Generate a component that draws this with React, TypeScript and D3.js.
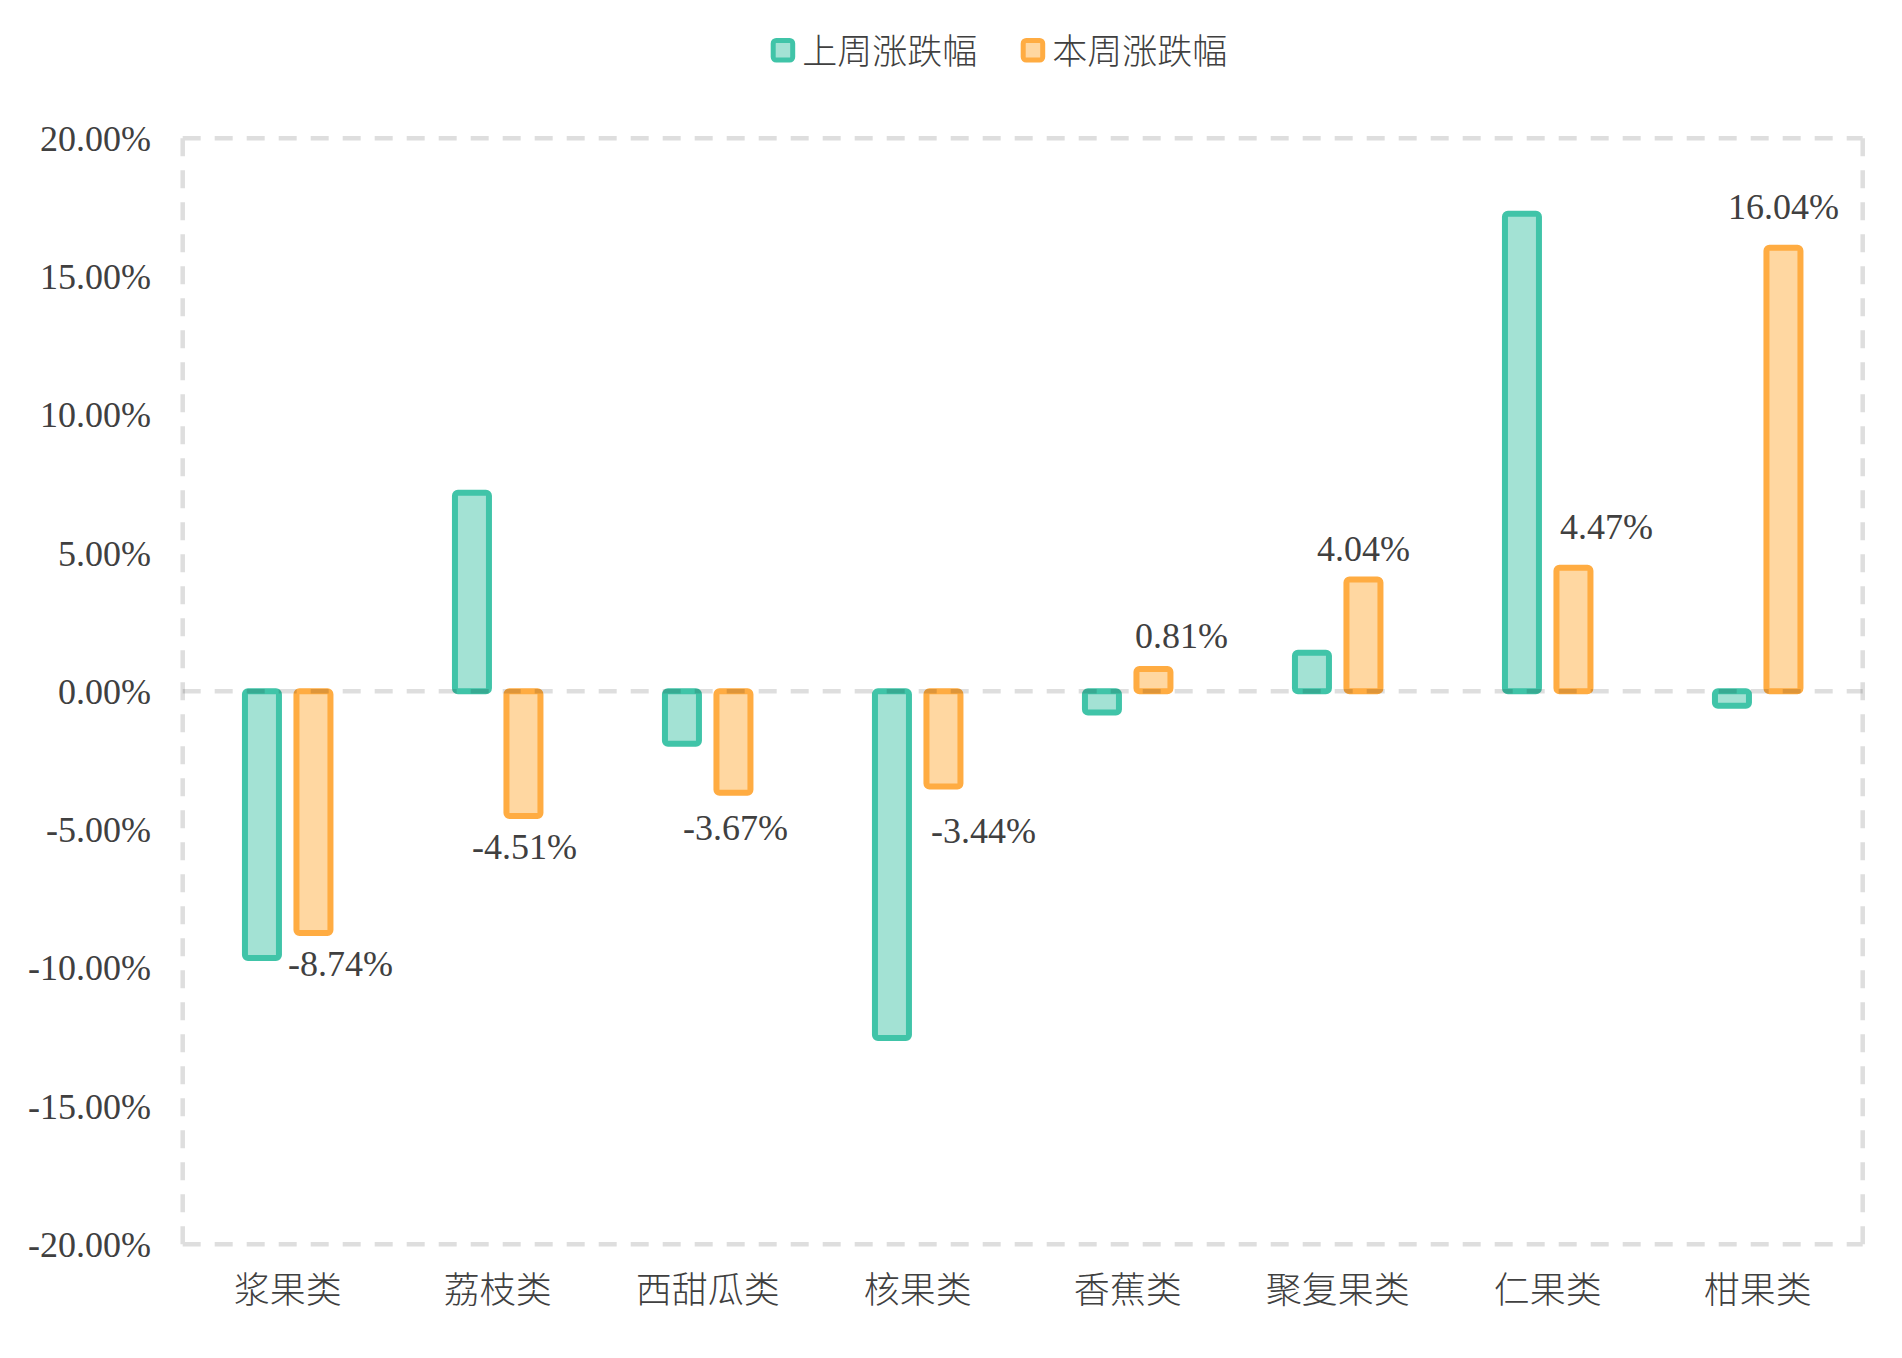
import * as d3 from "d3"

const categories = ["浆果类", "荔枝类", "西甜瓜类", "核果类", "香蕉类", "聚复果类", "仁果类", "柑果类"]
const lastWeek = [-9.65, 7.18, -1.9, -12.54, -0.77, 1.39, 17.27, -0.52]
const thisWeek = [-8.74, -4.51, -3.67, -3.44, 0.81, 4.04, 4.47, 16.04]
const seriesNames = ["上周涨跌幅", "本周涨跌幅"]

// label nudges (px) for the 本周 value labels, as dragged in the original
const labelNudge = [
  [27, 43],
  [1, 43],
  [2, 47],
  [40, 57],
  [28, -21],
  [0, -19],
  [33, -29],
  [0, -29],
]

const W = 1902
const H = 1358
const plot = { left: 182.7, right: 1862.7, top: 138.3, bottom: 1244.3 }

const strokes = ["#40C4A8", "#FFAC42"]
const fills = ["#A3E2D4", "#FFD7A1"]
const textColor = "#404040"
const gridColor = "#DEDEDE"
const serif = "'Liberation Serif', 'Times New Roman', 'Noto Sans CJK SC', serif"
const cjk = "'Noto Sans CJK SC', 'Liberation Serif', sans-serif"

export default function App() {
  const x = d3.scaleBand<string>().domain(categories).range([plot.left, plot.right]).padding(0)
  const bw = x.bandwidth()
  const x1 = d3
    .scaleBand<number>()
    .domain([0, 1])
    .range([bw / 2 - 51.5, bw / 2 + 51.5])
    .padding(0)
  const y = d3.scaleLinear().domain([-20, 20]).range([plot.bottom, plot.top])
  const ticks = y.ticks(8)
  const y0 = y(0)
  const barW = 34

  const series = [lastWeek, thisWeek]

  return (
    <svg
      width={W}
      height={H}
      style={{ position: "absolute", left: 0, top: 0, background: "#fff" }}
    >
      {/* legend */}
      {seriesNames.map((name, i) => {
        const lx = 770.7 + i * 250
        return (
          <g key={name}>
            <rect
              x={lx + 2.5}
              y={40.5}
              width={19.5}
              height={19.5}
              rx={3}
              fill={fills[i]}
              stroke={strokes[i]}
              strokeWidth={5}
            />
            <text x={lx + 31.5} y={64} fontFamily={cjk} fontSize={35} fill={textColor} fontWeight={300}>
              {name}
            </text>
          </g>
        )
      })}

      {/* plot border */}
      <g stroke={gridColor} strokeWidth={4.5} strokeDasharray="18 14" fill="none">
        <line x1={plot.left} x2={plot.right} y1={plot.top} y2={plot.top} />
        <line x1={plot.left} x2={plot.right} y1={plot.bottom} y2={plot.bottom} />
        <line x1={plot.left} x2={plot.left} y1={plot.top} y2={plot.bottom} />
        <line x1={plot.right} x2={plot.right} y1={plot.top} y2={plot.bottom} />
      </g>

      {/* y ticks */}
      {ticks.map((t) => (
        <text
          key={t}
          x={151}
          y={y(t)}
          dy="0.35em"
          textAnchor="end"
          fontFamily={serif}
          fontSize={36}
          fill={textColor}
        >
          {`${t.toFixed(2)}%`}
        </text>
      ))}

      {/* bars */}
      {categories.map((c, ci) => (
        <g key={c} transform={`translate(${x(c)},0)`}>
          {series.map((vals, si) => {
            const v = vals[ci]
            const cx = (x1(si) as number) + x1.bandwidth() / 2
            const yv = y(v)
            return (
              <rect
                key={si}
                x={cx - barW / 2}
                y={Math.min(yv, y0)}
                width={barW}
                height={Math.abs(yv - y0)}
                rx={3}
                fill={fills[si]}
                stroke={strokes[si]}
                strokeWidth={6}
              />
            )
          })}
        </g>
      ))}

      {/* zero line, drawn over bars */}
      <line
        x1={plot.left}
        x2={plot.right}
        y1={y0}
        y2={y0}
        stroke="#000"
        strokeOpacity={0.13}
        strokeWidth={4.5}
        strokeDasharray="18 14"
      />

      {/* value labels for 本周 */}
      {categories.map((c, ci) => {
        const v = thisWeek[ci]
        const cx = (x(c) as number) + (x1(1) as number) + x1.bandwidth() / 2
        const [dx, dy] = labelNudge[ci]
        return (
          <text
            key={c}
            x={cx + dx}
            y={y(v) + dy}
            textAnchor="middle"
            fontFamily={serif}
            fontSize={36}
            fill={textColor}
          >
            {`${v.toFixed(2)}%`}
          </text>
        )
      })}

      {/* category labels */}
      {categories.map((c) => (
        <text
          key={c}
          x={(x(c) as number) + bw / 2}
          y={1303}
          textAnchor="middle"
          fontFamily={cjk}
          fontSize={36}
          fontWeight={300}
          fill={textColor}
        >
          {c}
        </text>
      ))}
    </svg>
  )
}
